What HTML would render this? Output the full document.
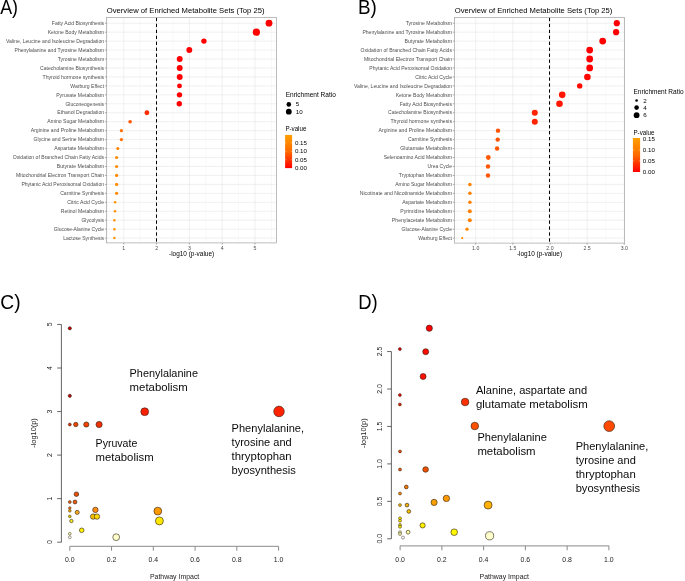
<!DOCTYPE html><html><head><meta charset="utf-8"><style>html,body{margin:0;padding:0;background:#fff;}svg{display:block;will-change:transform;}text{font-family:"Liberation Sans",sans-serif;}</style></head><body><svg width="685" height="581" viewBox="0 0 685 581" font-family="Liberation Sans, sans-serif">
<rect width="685" height="581" fill="#fff"/>
<line x1="107.40" y1="17.50" x2="107.40" y2="242.90" stroke="#efefef" stroke-width="0.4"/>
<line x1="140.20" y1="17.50" x2="140.20" y2="242.90" stroke="#efefef" stroke-width="0.4"/>
<line x1="173.00" y1="17.50" x2="173.00" y2="242.90" stroke="#efefef" stroke-width="0.4"/>
<line x1="205.80" y1="17.50" x2="205.80" y2="242.90" stroke="#efefef" stroke-width="0.4"/>
<line x1="238.60" y1="17.50" x2="238.60" y2="242.90" stroke="#efefef" stroke-width="0.4"/>
<line x1="271.40" y1="17.50" x2="271.40" y2="242.90" stroke="#efefef" stroke-width="0.4"/>
<line x1="123.80" y1="17.50" x2="123.80" y2="242.90" stroke="#e4e4e4" stroke-width="0.55"/>
<line x1="156.60" y1="17.50" x2="156.60" y2="242.90" stroke="#e4e4e4" stroke-width="0.55"/>
<line x1="189.40" y1="17.50" x2="189.40" y2="242.90" stroke="#e4e4e4" stroke-width="0.55"/>
<line x1="222.20" y1="17.50" x2="222.20" y2="242.90" stroke="#e4e4e4" stroke-width="0.55"/>
<line x1="255.00" y1="17.50" x2="255.00" y2="242.90" stroke="#e4e4e4" stroke-width="0.55"/>
<line x1="106.60" y1="23.20" x2="276.60" y2="23.20" stroke="#e4e4e4" stroke-width="0.55"/>
<line x1="106.60" y1="32.16" x2="276.60" y2="32.16" stroke="#e4e4e4" stroke-width="0.55"/>
<line x1="106.60" y1="41.11" x2="276.60" y2="41.11" stroke="#e4e4e4" stroke-width="0.55"/>
<line x1="106.60" y1="50.06" x2="276.60" y2="50.06" stroke="#e4e4e4" stroke-width="0.55"/>
<line x1="106.60" y1="59.02" x2="276.60" y2="59.02" stroke="#e4e4e4" stroke-width="0.55"/>
<line x1="106.60" y1="67.97" x2="276.60" y2="67.97" stroke="#e4e4e4" stroke-width="0.55"/>
<line x1="106.60" y1="76.93" x2="276.60" y2="76.93" stroke="#e4e4e4" stroke-width="0.55"/>
<line x1="106.60" y1="85.89" x2="276.60" y2="85.89" stroke="#e4e4e4" stroke-width="0.55"/>
<line x1="106.60" y1="94.84" x2="276.60" y2="94.84" stroke="#e4e4e4" stroke-width="0.55"/>
<line x1="106.60" y1="103.80" x2="276.60" y2="103.80" stroke="#e4e4e4" stroke-width="0.55"/>
<line x1="106.60" y1="112.75" x2="276.60" y2="112.75" stroke="#e4e4e4" stroke-width="0.55"/>
<line x1="106.60" y1="121.70" x2="276.60" y2="121.70" stroke="#e4e4e4" stroke-width="0.55"/>
<line x1="106.60" y1="130.66" x2="276.60" y2="130.66" stroke="#e4e4e4" stroke-width="0.55"/>
<line x1="106.60" y1="139.62" x2="276.60" y2="139.62" stroke="#e4e4e4" stroke-width="0.55"/>
<line x1="106.60" y1="148.57" x2="276.60" y2="148.57" stroke="#e4e4e4" stroke-width="0.55"/>
<line x1="106.60" y1="157.52" x2="276.60" y2="157.52" stroke="#e4e4e4" stroke-width="0.55"/>
<line x1="106.60" y1="166.48" x2="276.60" y2="166.48" stroke="#e4e4e4" stroke-width="0.55"/>
<line x1="106.60" y1="175.44" x2="276.60" y2="175.44" stroke="#e4e4e4" stroke-width="0.55"/>
<line x1="106.60" y1="184.39" x2="276.60" y2="184.39" stroke="#e4e4e4" stroke-width="0.55"/>
<line x1="106.60" y1="193.34" x2="276.60" y2="193.34" stroke="#e4e4e4" stroke-width="0.55"/>
<line x1="106.60" y1="202.30" x2="276.60" y2="202.30" stroke="#e4e4e4" stroke-width="0.55"/>
<line x1="106.60" y1="211.25" x2="276.60" y2="211.25" stroke="#e4e4e4" stroke-width="0.55"/>
<line x1="106.60" y1="220.21" x2="276.60" y2="220.21" stroke="#e4e4e4" stroke-width="0.55"/>
<line x1="106.60" y1="229.16" x2="276.60" y2="229.16" stroke="#e4e4e4" stroke-width="0.55"/>
<line x1="106.60" y1="238.12" x2="276.60" y2="238.12" stroke="#e4e4e4" stroke-width="0.55"/>
<line x1="156.50" y1="17.50" x2="156.50" y2="242.90" stroke="#000000" stroke-width="1.0" stroke-dasharray="3.35,2.61" stroke-dashoffset="-0.3"/>
<circle cx="269.00" cy="23.20" r="3.40" fill="#ff0000"/>
<circle cx="256.40" cy="32.16" r="3.60" fill="#ff0000"/>
<circle cx="203.90" cy="41.11" r="2.70" fill="#ff0000"/>
<circle cx="189.30" cy="50.06" r="2.95" fill="#ff0000"/>
<circle cx="179.70" cy="59.02" r="2.95" fill="#ff0000"/>
<circle cx="179.70" cy="67.97" r="2.95" fill="#ff0000"/>
<circle cx="179.70" cy="76.93" r="2.95" fill="#ff0000"/>
<circle cx="179.50" cy="85.89" r="2.45" fill="#ff0000"/>
<circle cx="179.50" cy="94.84" r="2.70" fill="#ff0000"/>
<circle cx="179.30" cy="103.80" r="2.70" fill="#ff0000"/>
<circle cx="146.90" cy="112.75" r="2.40" fill="#ff2a00"/>
<circle cx="130.10" cy="121.70" r="1.80" fill="#ff5500"/>
<circle cx="121.40" cy="130.66" r="1.60" fill="#ff7000"/>
<circle cx="121.40" cy="139.62" r="1.65" fill="#ff7000"/>
<circle cx="117.80" cy="148.57" r="1.50" fill="#ff8000"/>
<circle cx="116.60" cy="157.52" r="1.60" fill="#ff8a00"/>
<circle cx="116.60" cy="166.48" r="1.60" fill="#ff8a00"/>
<circle cx="116.60" cy="175.44" r="1.60" fill="#ff8a00"/>
<circle cx="116.60" cy="184.39" r="1.60" fill="#ff8a00"/>
<circle cx="116.60" cy="193.34" r="1.60" fill="#ff8a00"/>
<circle cx="115.10" cy="202.30" r="1.30" fill="#ff9200"/>
<circle cx="115.00" cy="211.25" r="1.30" fill="#ff9200"/>
<circle cx="114.40" cy="220.21" r="1.25" fill="#ff9200"/>
<circle cx="114.40" cy="229.16" r="1.25" fill="#ff9200"/>
<circle cx="114.40" cy="238.12" r="1.25" fill="#ff9200"/>
<rect x="106.60" y="17.50" width="170.00" height="225.40" fill="none" stroke="#a8a8a8" stroke-width="0.75"/>
<line x1="104.90" y1="23.20" x2="106.60" y2="23.20" stroke="#888888" stroke-width="0.7"/>
<text x="51.80" y="24.90" font-size="5.10" fill="#4d4d4d" textLength="52.30" lengthAdjust="spacingAndGlyphs">Fatty Acid Biosynthesis</text>
<line x1="104.90" y1="32.16" x2="106.60" y2="32.16" stroke="#888888" stroke-width="0.7"/>
<text x="47.74" y="33.86" font-size="5.10" fill="#4d4d4d" textLength="56.36" lengthAdjust="spacingAndGlyphs">Ketone Body Metabolism</text>
<line x1="104.90" y1="41.11" x2="106.60" y2="41.11" stroke="#888888" stroke-width="0.7"/>
<text x="6.04" y="42.81" font-size="5.10" fill="#4d4d4d" textLength="98.06" lengthAdjust="spacingAndGlyphs">Valine, Leucine and Isoleucine Degradation</text>
<line x1="104.90" y1="50.06" x2="106.60" y2="50.06" stroke="#888888" stroke-width="0.7"/>
<text x="14.52" y="51.77" font-size="5.10" fill="#4d4d4d" textLength="89.58" lengthAdjust="spacingAndGlyphs">Phenylalanine and Tyrosine Metabolism</text>
<line x1="104.90" y1="59.02" x2="106.60" y2="59.02" stroke="#888888" stroke-width="0.7"/>
<text x="57.82" y="60.72" font-size="5.10" fill="#4d4d4d" textLength="46.28" lengthAdjust="spacingAndGlyphs">Tyrosine Metabolism</text>
<line x1="104.90" y1="67.97" x2="106.60" y2="67.97" stroke="#888888" stroke-width="0.7"/>
<text x="40.06" y="69.67" font-size="5.10" fill="#4d4d4d" textLength="64.04" lengthAdjust="spacingAndGlyphs">Catecholamine Biosynthesis</text>
<line x1="104.90" y1="76.93" x2="106.60" y2="76.93" stroke="#888888" stroke-width="0.7"/>
<text x="42.50" y="78.63" font-size="5.10" fill="#4d4d4d" textLength="61.60" lengthAdjust="spacingAndGlyphs">Thyroid hormone synthesis</text>
<line x1="104.90" y1="85.89" x2="106.60" y2="85.89" stroke="#888888" stroke-width="0.7"/>
<text x="70.31" y="87.59" font-size="5.10" fill="#4d4d4d" textLength="33.79" lengthAdjust="spacingAndGlyphs">Warburg Effect</text>
<line x1="104.90" y1="94.84" x2="106.60" y2="94.84" stroke="#888888" stroke-width="0.7"/>
<text x="56.20" y="96.54" font-size="5.10" fill="#4d4d4d" textLength="47.90" lengthAdjust="spacingAndGlyphs">Pyruvate Metabolism</text>
<line x1="104.90" y1="103.80" x2="106.60" y2="103.80" stroke="#888888" stroke-width="0.7"/>
<text x="65.38" y="105.50" font-size="5.10" fill="#4d4d4d" textLength="38.72" lengthAdjust="spacingAndGlyphs">Gluconeogenesis</text>
<line x1="104.90" y1="112.75" x2="106.60" y2="112.75" stroke="#888888" stroke-width="0.7"/>
<text x="57.25" y="114.45" font-size="5.10" fill="#4d4d4d" textLength="46.85" lengthAdjust="spacingAndGlyphs">Ethanol Degradation</text>
<line x1="104.90" y1="121.70" x2="106.60" y2="121.70" stroke="#888888" stroke-width="0.7"/>
<text x="47.24" y="123.41" font-size="5.10" fill="#4d4d4d" textLength="56.86" lengthAdjust="spacingAndGlyphs">Amino Sugar Metabolism</text>
<line x1="104.90" y1="130.66" x2="106.60" y2="130.66" stroke="#888888" stroke-width="0.7"/>
<text x="30.74" y="132.36" font-size="5.10" fill="#4d4d4d" textLength="73.36" lengthAdjust="spacingAndGlyphs">Arginine and Proline Metabolism</text>
<line x1="104.90" y1="139.62" x2="106.60" y2="139.62" stroke="#888888" stroke-width="0.7"/>
<text x="33.62" y="141.31" font-size="5.10" fill="#4d4d4d" textLength="70.48" lengthAdjust="spacingAndGlyphs">Glycine and Serine Metabolism</text>
<line x1="104.90" y1="148.57" x2="106.60" y2="148.57" stroke="#888888" stroke-width="0.7"/>
<text x="54.28" y="150.27" font-size="5.10" fill="#4d4d4d" textLength="49.82" lengthAdjust="spacingAndGlyphs">Aspartate Metabolism</text>
<line x1="104.90" y1="157.52" x2="106.60" y2="157.52" stroke="#888888" stroke-width="0.7"/>
<text x="12.71" y="159.22" font-size="5.10" fill="#4d4d4d" textLength="91.39" lengthAdjust="spacingAndGlyphs">Oxidation of Branched Chain Fatty Acids</text>
<line x1="104.90" y1="166.48" x2="106.60" y2="166.48" stroke="#888888" stroke-width="0.7"/>
<text x="56.73" y="168.18" font-size="5.10" fill="#4d4d4d" textLength="47.37" lengthAdjust="spacingAndGlyphs">Butyrate Metabolism</text>
<line x1="104.90" y1="175.44" x2="106.60" y2="175.44" stroke="#888888" stroke-width="0.7"/>
<text x="16.06" y="177.13" font-size="5.10" fill="#4d4d4d" textLength="88.04" lengthAdjust="spacingAndGlyphs">Mitochondrial Electron Transport Chain</text>
<line x1="104.90" y1="184.39" x2="106.60" y2="184.39" stroke="#888888" stroke-width="0.7"/>
<text x="21.39" y="186.09" font-size="5.10" fill="#4d4d4d" textLength="82.71" lengthAdjust="spacingAndGlyphs">Phytanic Acid Peroxisomal Oxidation</text>
<line x1="104.90" y1="193.34" x2="106.60" y2="193.34" stroke="#888888" stroke-width="0.7"/>
<text x="60.18" y="195.04" font-size="5.10" fill="#4d4d4d" textLength="43.92" lengthAdjust="spacingAndGlyphs">Carnitine Synthesis</text>
<line x1="104.90" y1="202.30" x2="106.60" y2="202.30" stroke="#888888" stroke-width="0.7"/>
<text x="67.30" y="204.00" font-size="5.10" fill="#4d4d4d" textLength="36.80" lengthAdjust="spacingAndGlyphs">Citric Acid Cycle</text>
<line x1="104.90" y1="211.25" x2="106.60" y2="211.25" stroke="#888888" stroke-width="0.7"/>
<text x="60.71" y="212.95" font-size="5.10" fill="#4d4d4d" textLength="43.39" lengthAdjust="spacingAndGlyphs">Retinol Metabolism</text>
<line x1="104.90" y1="220.21" x2="106.60" y2="220.21" stroke="#888888" stroke-width="0.7"/>
<text x="81.42" y="221.91" font-size="5.10" fill="#4d4d4d" textLength="22.68" lengthAdjust="spacingAndGlyphs">Glycolysis</text>
<line x1="104.90" y1="229.16" x2="106.60" y2="229.16" stroke="#888888" stroke-width="0.7"/>
<text x="53.66" y="230.86" font-size="5.10" fill="#4d4d4d" textLength="50.44" lengthAdjust="spacingAndGlyphs">Glucose-Alanine Cycle</text>
<line x1="104.90" y1="238.12" x2="106.60" y2="238.12" stroke="#888888" stroke-width="0.7"/>
<text x="63.24" y="239.82" font-size="5.10" fill="#4d4d4d" textLength="40.86" lengthAdjust="spacingAndGlyphs">Lactose Synthesis</text>
<line x1="123.80" y1="242.90" x2="123.80" y2="244.50" stroke="#888888" stroke-width="0.7"/>
<text x="122.36" y="249.70" font-size="5.10" fill="#4d4d4d" textLength="2.89" lengthAdjust="spacingAndGlyphs">1</text>
<line x1="156.60" y1="242.90" x2="156.60" y2="244.50" stroke="#888888" stroke-width="0.7"/>
<text x="155.16" y="249.70" font-size="5.10" fill="#4d4d4d" textLength="2.89" lengthAdjust="spacingAndGlyphs">2</text>
<line x1="189.40" y1="242.90" x2="189.40" y2="244.50" stroke="#888888" stroke-width="0.7"/>
<text x="187.96" y="249.70" font-size="5.10" fill="#4d4d4d" textLength="2.89" lengthAdjust="spacingAndGlyphs">3</text>
<line x1="222.20" y1="242.90" x2="222.20" y2="244.50" stroke="#888888" stroke-width="0.7"/>
<text x="220.76" y="249.70" font-size="5.10" fill="#4d4d4d" textLength="2.89" lengthAdjust="spacingAndGlyphs">4</text>
<line x1="255.00" y1="242.90" x2="255.00" y2="244.50" stroke="#888888" stroke-width="0.7"/>
<text x="253.56" y="249.70" font-size="5.10" fill="#4d4d4d" textLength="2.89" lengthAdjust="spacingAndGlyphs">5</text>
<text x="169.02" y="255.50" font-size="6.37" fill="#000" textLength="45.15" lengthAdjust="spacingAndGlyphs">-log10 (p-value)</text>
<text x="106.80" y="13.30" font-size="7.65" fill="#000" textLength="157.74" lengthAdjust="spacingAndGlyphs">Overview of Enriched Metabolite Sets (Top 25)</text>
<text x="285.70" y="97.40" font-size="6.51" fill="#000" textLength="50.11" lengthAdjust="spacingAndGlyphs">Enrichment Ratio</text>
<circle cx="288.80" cy="104.40" r="2.30" fill="#000"/>
<text x="295.80" y="106.40" font-size="6.12" fill="#000" textLength="3.47" lengthAdjust="spacingAndGlyphs">5</text>
<circle cx="288.80" cy="111.70" r="2.90" fill="#000"/>
<text x="295.80" y="113.70" font-size="6.12" fill="#000" textLength="6.94" lengthAdjust="spacingAndGlyphs">10</text>
<text x="285.40" y="131.40" font-size="6.46" fill="#000" textLength="20.97" lengthAdjust="spacingAndGlyphs">P-value</text>
<defs><linearGradient id="gA" x1="0" y1="0" x2="0" y2="1"><stop offset="0" stop-color="#ffa000"/><stop offset="0.5" stop-color="#ff6a00"/><stop offset="1" stop-color="#ff0000"/></linearGradient><linearGradient id="gB" x1="0" y1="0" x2="0" y2="1"><stop offset="0" stop-color="#ffa000"/><stop offset="0.5" stop-color="#ff6a00"/><stop offset="1" stop-color="#ff0000"/></linearGradient></defs>
<rect x="285.1" y="134.9" width="7.0" height="33.2" fill="url(#gA)"/>
<text x="294.90" y="144.80" font-size="6.12" fill="#000" textLength="12.14" lengthAdjust="spacingAndGlyphs">0.15</text>
<line x1="285.10" y1="142.80" x2="286.50" y2="142.80" stroke="#ffffff" stroke-width="0.5" opacity="0.7"/>
<line x1="290.70" y1="142.80" x2="292.10" y2="142.80" stroke="#ffffff" stroke-width="0.5" opacity="0.7"/>
<text x="294.90" y="153.30" font-size="6.12" fill="#000" textLength="12.14" lengthAdjust="spacingAndGlyphs">0.10</text>
<line x1="285.10" y1="151.30" x2="286.50" y2="151.30" stroke="#ffffff" stroke-width="0.5" opacity="0.7"/>
<line x1="290.70" y1="151.30" x2="292.10" y2="151.30" stroke="#ffffff" stroke-width="0.5" opacity="0.7"/>
<text x="294.90" y="161.80" font-size="6.12" fill="#000" textLength="12.14" lengthAdjust="spacingAndGlyphs">0.05</text>
<line x1="285.10" y1="159.80" x2="286.50" y2="159.80" stroke="#ffffff" stroke-width="0.5" opacity="0.7"/>
<line x1="290.70" y1="159.80" x2="292.10" y2="159.80" stroke="#ffffff" stroke-width="0.5" opacity="0.7"/>
<text x="294.90" y="170.20" font-size="6.12" fill="#000" textLength="12.14" lengthAdjust="spacingAndGlyphs">0.00</text>
<line x1="457.12" y1="17.50" x2="457.12" y2="243.10" stroke="#efefef" stroke-width="0.4"/>
<line x1="494.27" y1="17.50" x2="494.27" y2="243.10" stroke="#efefef" stroke-width="0.4"/>
<line x1="531.42" y1="17.50" x2="531.42" y2="243.10" stroke="#efefef" stroke-width="0.4"/>
<line x1="568.58" y1="17.50" x2="568.58" y2="243.10" stroke="#efefef" stroke-width="0.4"/>
<line x1="605.73" y1="17.50" x2="605.73" y2="243.10" stroke="#efefef" stroke-width="0.4"/>
<line x1="475.70" y1="17.50" x2="475.70" y2="243.10" stroke="#e4e4e4" stroke-width="0.55"/>
<line x1="512.85" y1="17.50" x2="512.85" y2="243.10" stroke="#e4e4e4" stroke-width="0.55"/>
<line x1="550.00" y1="17.50" x2="550.00" y2="243.10" stroke="#e4e4e4" stroke-width="0.55"/>
<line x1="587.15" y1="17.50" x2="587.15" y2="243.10" stroke="#e4e4e4" stroke-width="0.55"/>
<line x1="624.30" y1="17.50" x2="624.30" y2="243.10" stroke="#e4e4e4" stroke-width="0.55"/>
<line x1="454.50" y1="23.20" x2="624.40" y2="23.20" stroke="#e4e4e4" stroke-width="0.55"/>
<line x1="454.50" y1="32.16" x2="624.40" y2="32.16" stroke="#e4e4e4" stroke-width="0.55"/>
<line x1="454.50" y1="41.11" x2="624.40" y2="41.11" stroke="#e4e4e4" stroke-width="0.55"/>
<line x1="454.50" y1="50.06" x2="624.40" y2="50.06" stroke="#e4e4e4" stroke-width="0.55"/>
<line x1="454.50" y1="59.02" x2="624.40" y2="59.02" stroke="#e4e4e4" stroke-width="0.55"/>
<line x1="454.50" y1="67.97" x2="624.40" y2="67.97" stroke="#e4e4e4" stroke-width="0.55"/>
<line x1="454.50" y1="76.93" x2="624.40" y2="76.93" stroke="#e4e4e4" stroke-width="0.55"/>
<line x1="454.50" y1="85.89" x2="624.40" y2="85.89" stroke="#e4e4e4" stroke-width="0.55"/>
<line x1="454.50" y1="94.84" x2="624.40" y2="94.84" stroke="#e4e4e4" stroke-width="0.55"/>
<line x1="454.50" y1="103.80" x2="624.40" y2="103.80" stroke="#e4e4e4" stroke-width="0.55"/>
<line x1="454.50" y1="112.75" x2="624.40" y2="112.75" stroke="#e4e4e4" stroke-width="0.55"/>
<line x1="454.50" y1="121.70" x2="624.40" y2="121.70" stroke="#e4e4e4" stroke-width="0.55"/>
<line x1="454.50" y1="130.66" x2="624.40" y2="130.66" stroke="#e4e4e4" stroke-width="0.55"/>
<line x1="454.50" y1="139.62" x2="624.40" y2="139.62" stroke="#e4e4e4" stroke-width="0.55"/>
<line x1="454.50" y1="148.57" x2="624.40" y2="148.57" stroke="#e4e4e4" stroke-width="0.55"/>
<line x1="454.50" y1="157.52" x2="624.40" y2="157.52" stroke="#e4e4e4" stroke-width="0.55"/>
<line x1="454.50" y1="166.48" x2="624.40" y2="166.48" stroke="#e4e4e4" stroke-width="0.55"/>
<line x1="454.50" y1="175.44" x2="624.40" y2="175.44" stroke="#e4e4e4" stroke-width="0.55"/>
<line x1="454.50" y1="184.39" x2="624.40" y2="184.39" stroke="#e4e4e4" stroke-width="0.55"/>
<line x1="454.50" y1="193.34" x2="624.40" y2="193.34" stroke="#e4e4e4" stroke-width="0.55"/>
<line x1="454.50" y1="202.30" x2="624.40" y2="202.30" stroke="#e4e4e4" stroke-width="0.55"/>
<line x1="454.50" y1="211.25" x2="624.40" y2="211.25" stroke="#e4e4e4" stroke-width="0.55"/>
<line x1="454.50" y1="220.21" x2="624.40" y2="220.21" stroke="#e4e4e4" stroke-width="0.55"/>
<line x1="454.50" y1="229.16" x2="624.40" y2="229.16" stroke="#e4e4e4" stroke-width="0.55"/>
<line x1="454.50" y1="238.12" x2="624.40" y2="238.12" stroke="#e4e4e4" stroke-width="0.55"/>
<line x1="549.50" y1="17.50" x2="549.50" y2="243.10" stroke="#000000" stroke-width="1.0" stroke-dasharray="3.35,2.61" stroke-dashoffset="-0.3"/>
<circle cx="616.80" cy="23.20" r="3.10" fill="#ff0000"/>
<circle cx="616.10" cy="32.16" r="3.10" fill="#ff0000"/>
<circle cx="602.70" cy="41.11" r="3.40" fill="#ff0000"/>
<circle cx="589.70" cy="50.06" r="3.40" fill="#ff0000"/>
<circle cx="589.70" cy="59.02" r="3.40" fill="#ff0000"/>
<circle cx="589.70" cy="67.97" r="3.40" fill="#ff0000"/>
<circle cx="587.40" cy="76.93" r="3.30" fill="#ff0500"/>
<circle cx="579.70" cy="85.89" r="2.70" fill="#ff0a00"/>
<circle cx="562.20" cy="94.84" r="3.30" fill="#ff1400"/>
<circle cx="559.50" cy="103.80" r="3.30" fill="#ff1600"/>
<circle cx="534.80" cy="112.75" r="3.00" fill="#ff2400"/>
<circle cx="534.80" cy="121.70" r="3.00" fill="#ff2400"/>
<circle cx="498.00" cy="130.66" r="2.20" fill="#ff5200"/>
<circle cx="497.70" cy="139.62" r="2.20" fill="#ff5200"/>
<circle cx="497.10" cy="148.57" r="2.20" fill="#ff5400"/>
<circle cx="488.30" cy="157.52" r="2.40" fill="#ff5800"/>
<circle cx="488.00" cy="166.48" r="2.20" fill="#ff5800"/>
<circle cx="488.00" cy="175.44" r="2.20" fill="#ff5800"/>
<circle cx="469.90" cy="184.39" r="1.75" fill="#ff8000"/>
<circle cx="469.90" cy="193.34" r="1.75" fill="#ff8000"/>
<circle cx="469.90" cy="202.30" r="1.75" fill="#ff8000"/>
<circle cx="469.80" cy="211.25" r="2.00" fill="#ff8000"/>
<circle cx="469.80" cy="220.21" r="2.00" fill="#ff8000"/>
<circle cx="467.00" cy="229.16" r="1.70" fill="#ff8800"/>
<circle cx="462.20" cy="238.12" r="1.15" fill="#ff9200"/>
<rect x="454.50" y="17.50" width="169.90" height="225.60" fill="none" stroke="#a8a8a8" stroke-width="0.75"/>
<line x1="452.80" y1="23.20" x2="454.50" y2="23.20" stroke="#888888" stroke-width="0.7"/>
<text x="405.72" y="24.90" font-size="5.10" fill="#4d4d4d" textLength="46.28" lengthAdjust="spacingAndGlyphs">Tyrosine Metabolism</text>
<line x1="452.80" y1="32.16" x2="454.50" y2="32.16" stroke="#888888" stroke-width="0.7"/>
<text x="362.42" y="33.86" font-size="5.10" fill="#4d4d4d" textLength="89.58" lengthAdjust="spacingAndGlyphs">Phenylalanine and Tyrosine Metabolism</text>
<line x1="452.80" y1="41.11" x2="454.50" y2="41.11" stroke="#888888" stroke-width="0.7"/>
<text x="404.63" y="42.81" font-size="5.10" fill="#4d4d4d" textLength="47.37" lengthAdjust="spacingAndGlyphs">Butyrate Metabolism</text>
<line x1="452.80" y1="50.06" x2="454.50" y2="50.06" stroke="#888888" stroke-width="0.7"/>
<text x="360.61" y="51.77" font-size="5.10" fill="#4d4d4d" textLength="91.39" lengthAdjust="spacingAndGlyphs">Oxidation of Branched Chain Fatty Acids</text>
<line x1="452.80" y1="59.02" x2="454.50" y2="59.02" stroke="#888888" stroke-width="0.7"/>
<text x="363.96" y="60.72" font-size="5.10" fill="#4d4d4d" textLength="88.04" lengthAdjust="spacingAndGlyphs">Mitochondrial Electron Transport Chain</text>
<line x1="452.80" y1="67.97" x2="454.50" y2="67.97" stroke="#888888" stroke-width="0.7"/>
<text x="369.29" y="69.67" font-size="5.10" fill="#4d4d4d" textLength="82.71" lengthAdjust="spacingAndGlyphs">Phytanic Acid Peroxisomal Oxidation</text>
<line x1="452.80" y1="76.93" x2="454.50" y2="76.93" stroke="#888888" stroke-width="0.7"/>
<text x="415.20" y="78.63" font-size="5.10" fill="#4d4d4d" textLength="36.80" lengthAdjust="spacingAndGlyphs">Citric Acid Cycle</text>
<line x1="452.80" y1="85.89" x2="454.50" y2="85.89" stroke="#888888" stroke-width="0.7"/>
<text x="353.94" y="87.59" font-size="5.10" fill="#4d4d4d" textLength="98.06" lengthAdjust="spacingAndGlyphs">Valine, Leucine and Isoleucine Degradation</text>
<line x1="452.80" y1="94.84" x2="454.50" y2="94.84" stroke="#888888" stroke-width="0.7"/>
<text x="395.64" y="96.54" font-size="5.10" fill="#4d4d4d" textLength="56.36" lengthAdjust="spacingAndGlyphs">Ketone Body Metabolism</text>
<line x1="452.80" y1="103.80" x2="454.50" y2="103.80" stroke="#888888" stroke-width="0.7"/>
<text x="399.70" y="105.50" font-size="5.10" fill="#4d4d4d" textLength="52.30" lengthAdjust="spacingAndGlyphs">Fatty Acid Biosynthesis</text>
<line x1="452.80" y1="112.75" x2="454.50" y2="112.75" stroke="#888888" stroke-width="0.7"/>
<text x="387.96" y="114.45" font-size="5.10" fill="#4d4d4d" textLength="64.04" lengthAdjust="spacingAndGlyphs">Catecholamine Biosynthesis</text>
<line x1="452.80" y1="121.70" x2="454.50" y2="121.70" stroke="#888888" stroke-width="0.7"/>
<text x="390.40" y="123.41" font-size="5.10" fill="#4d4d4d" textLength="61.60" lengthAdjust="spacingAndGlyphs">Thyroid hormone synthesis</text>
<line x1="452.80" y1="130.66" x2="454.50" y2="130.66" stroke="#888888" stroke-width="0.7"/>
<text x="378.64" y="132.36" font-size="5.10" fill="#4d4d4d" textLength="73.36" lengthAdjust="spacingAndGlyphs">Arginine and Proline Metabolism</text>
<line x1="452.80" y1="139.62" x2="454.50" y2="139.62" stroke="#888888" stroke-width="0.7"/>
<text x="408.08" y="141.31" font-size="5.10" fill="#4d4d4d" textLength="43.92" lengthAdjust="spacingAndGlyphs">Carnitine Synthesis</text>
<line x1="452.80" y1="148.57" x2="454.50" y2="148.57" stroke="#888888" stroke-width="0.7"/>
<text x="400.32" y="150.27" font-size="5.10" fill="#4d4d4d" textLength="51.68" lengthAdjust="spacingAndGlyphs">Glutamate Metabolism</text>
<line x1="452.80" y1="157.52" x2="454.50" y2="157.52" stroke="#888888" stroke-width="0.7"/>
<text x="383.70" y="159.22" font-size="5.10" fill="#4d4d4d" textLength="68.30" lengthAdjust="spacingAndGlyphs">Selenoamino Acid Metabolism</text>
<line x1="452.80" y1="166.48" x2="454.50" y2="166.48" stroke="#888888" stroke-width="0.7"/>
<text x="427.48" y="168.18" font-size="5.10" fill="#4d4d4d" textLength="24.52" lengthAdjust="spacingAndGlyphs">Urea Cycle</text>
<line x1="452.80" y1="175.44" x2="454.50" y2="175.44" stroke="#888888" stroke-width="0.7"/>
<text x="398.80" y="177.13" font-size="5.10" fill="#4d4d4d" textLength="53.20" lengthAdjust="spacingAndGlyphs">Tryptophan Metabolism</text>
<line x1="452.80" y1="184.39" x2="454.50" y2="184.39" stroke="#888888" stroke-width="0.7"/>
<text x="395.14" y="186.09" font-size="5.10" fill="#4d4d4d" textLength="56.86" lengthAdjust="spacingAndGlyphs">Amino Sugar Metabolism</text>
<line x1="452.80" y1="193.34" x2="454.50" y2="193.34" stroke="#888888" stroke-width="0.7"/>
<text x="359.69" y="195.04" font-size="5.10" fill="#4d4d4d" textLength="92.31" lengthAdjust="spacingAndGlyphs">Nicotinate and Nicotinamide Metabolism</text>
<line x1="452.80" y1="202.30" x2="454.50" y2="202.30" stroke="#888888" stroke-width="0.7"/>
<text x="402.18" y="204.00" font-size="5.10" fill="#4d4d4d" textLength="49.82" lengthAdjust="spacingAndGlyphs">Aspartate Metabolism</text>
<line x1="452.80" y1="211.25" x2="454.50" y2="211.25" stroke="#888888" stroke-width="0.7"/>
<text x="400.26" y="212.95" font-size="5.10" fill="#4d4d4d" textLength="51.74" lengthAdjust="spacingAndGlyphs">Pyrimidine Metabolism</text>
<line x1="452.80" y1="220.21" x2="454.50" y2="220.21" stroke="#888888" stroke-width="0.7"/>
<text x="391.87" y="221.91" font-size="5.10" fill="#4d4d4d" textLength="60.13" lengthAdjust="spacingAndGlyphs">Phenylacetate Metabolism</text>
<line x1="452.80" y1="229.16" x2="454.50" y2="229.16" stroke="#888888" stroke-width="0.7"/>
<text x="401.56" y="230.86" font-size="5.10" fill="#4d4d4d" textLength="50.44" lengthAdjust="spacingAndGlyphs">Glucose-Alanine Cycle</text>
<line x1="452.80" y1="238.12" x2="454.50" y2="238.12" stroke="#888888" stroke-width="0.7"/>
<text x="418.21" y="239.82" font-size="5.10" fill="#4d4d4d" textLength="33.79" lengthAdjust="spacingAndGlyphs">Warburg Effect</text>
<line x1="475.70" y1="243.10" x2="475.70" y2="244.70" stroke="#888888" stroke-width="0.7"/>
<text x="472.09" y="249.90" font-size="5.10" fill="#4d4d4d" textLength="7.22" lengthAdjust="spacingAndGlyphs">1.0</text>
<line x1="512.85" y1="243.10" x2="512.85" y2="244.70" stroke="#888888" stroke-width="0.7"/>
<text x="509.24" y="249.90" font-size="5.10" fill="#4d4d4d" textLength="7.22" lengthAdjust="spacingAndGlyphs">1.5</text>
<line x1="550.00" y1="243.10" x2="550.00" y2="244.70" stroke="#888888" stroke-width="0.7"/>
<text x="546.39" y="249.90" font-size="5.10" fill="#4d4d4d" textLength="7.22" lengthAdjust="spacingAndGlyphs">2.0</text>
<line x1="587.15" y1="243.10" x2="587.15" y2="244.70" stroke="#888888" stroke-width="0.7"/>
<text x="583.54" y="249.90" font-size="5.10" fill="#4d4d4d" textLength="7.22" lengthAdjust="spacingAndGlyphs">2.5</text>
<line x1="624.30" y1="243.10" x2="624.30" y2="244.70" stroke="#888888" stroke-width="0.7"/>
<text x="620.69" y="249.90" font-size="5.10" fill="#4d4d4d" textLength="7.22" lengthAdjust="spacingAndGlyphs">3.0</text>
<text x="516.92" y="255.50" font-size="6.37" fill="#000" textLength="45.15" lengthAdjust="spacingAndGlyphs">-log10 (p-value)</text>
<text x="454.70" y="13.30" font-size="7.65" fill="#000" textLength="157.74" lengthAdjust="spacingAndGlyphs">Overview of Enriched Metabolite Sets (Top 25)</text>
<text x="633.50" y="94.00" font-size="6.51" fill="#000" textLength="50.11" lengthAdjust="spacingAndGlyphs">Enrichment Ratio</text>
<circle cx="636.60" cy="100.50" r="1.30" fill="#000"/>
<text x="643.30" y="102.50" font-size="6.12" fill="#000" textLength="3.47" lengthAdjust="spacingAndGlyphs">2</text>
<circle cx="636.60" cy="107.60" r="2.30" fill="#000"/>
<text x="643.30" y="109.60" font-size="6.12" fill="#000" textLength="3.47" lengthAdjust="spacingAndGlyphs">4</text>
<circle cx="636.60" cy="115.20" r="2.90" fill="#000"/>
<text x="643.30" y="117.20" font-size="6.12" fill="#000" textLength="3.47" lengthAdjust="spacingAndGlyphs">6</text>
<text x="633.50" y="135.40" font-size="6.46" fill="#000" textLength="20.97" lengthAdjust="spacingAndGlyphs">P-value</text>
<rect x="632.9" y="138.0" width="7.2" height="34.0" fill="url(#gB)"/>
<text x="642.80" y="141.30" font-size="6.12" fill="#000" textLength="12.14" lengthAdjust="spacingAndGlyphs">0.15</text>
<text x="642.80" y="152.10" font-size="6.12" fill="#000" textLength="12.14" lengthAdjust="spacingAndGlyphs">0.10</text>
<line x1="632.90" y1="150.10" x2="634.30" y2="150.10" stroke="#ffffff" stroke-width="0.5" opacity="0.7"/>
<line x1="638.70" y1="150.10" x2="640.10" y2="150.10" stroke="#ffffff" stroke-width="0.5" opacity="0.7"/>
<text x="642.80" y="163.00" font-size="6.12" fill="#000" textLength="12.14" lengthAdjust="spacingAndGlyphs">0.05</text>
<line x1="632.90" y1="161.00" x2="634.30" y2="161.00" stroke="#ffffff" stroke-width="0.5" opacity="0.7"/>
<line x1="638.70" y1="161.00" x2="640.10" y2="161.00" stroke="#ffffff" stroke-width="0.5" opacity="0.7"/>
<text x="642.80" y="173.80" font-size="6.12" fill="#000" textLength="12.14" lengthAdjust="spacingAndGlyphs">0.00</text>
<text x="0.20" y="13.90" font-size="19.80" fill="#000" textLength="17.82" lengthAdjust="spacingAndGlyphs">A)</text>
<text x="357.90" y="13.90" font-size="19.80" fill="#000" textLength="18.81" lengthAdjust="spacingAndGlyphs">B)</text>
<text x="0.30" y="309.10" font-size="19.80" fill="#000" textLength="20.27" lengthAdjust="spacingAndGlyphs">C)</text>
<text x="358.20" y="309.00" font-size="19.80" fill="#000" textLength="19.43" lengthAdjust="spacingAndGlyphs">D)</text>
<line x1="61.40" y1="324.45" x2="61.40" y2="542.20" stroke="#555555" stroke-width="0.9"/>
<line x1="57.20" y1="542.20" x2="61.40" y2="542.20" stroke="#555555" stroke-width="0.9"/>
<text x="0" y="0" font-size="6.9" fill="#222" text-anchor="middle" transform="translate(52.20 542.20) rotate(-90)">0</text>
<line x1="57.20" y1="498.65" x2="61.40" y2="498.65" stroke="#555555" stroke-width="0.9"/>
<text x="0" y="0" font-size="6.9" fill="#222" text-anchor="middle" transform="translate(52.20 498.65) rotate(-90)">1</text>
<line x1="57.20" y1="455.10" x2="61.40" y2="455.10" stroke="#555555" stroke-width="0.9"/>
<text x="0" y="0" font-size="6.9" fill="#222" text-anchor="middle" transform="translate(52.20 455.10) rotate(-90)">2</text>
<line x1="57.20" y1="411.55" x2="61.40" y2="411.55" stroke="#555555" stroke-width="0.9"/>
<text x="0" y="0" font-size="6.9" fill="#222" text-anchor="middle" transform="translate(52.20 411.55) rotate(-90)">3</text>
<line x1="57.20" y1="368.00" x2="61.40" y2="368.00" stroke="#555555" stroke-width="0.9"/>
<text x="0" y="0" font-size="6.9" fill="#222" text-anchor="middle" transform="translate(52.20 368.00) rotate(-90)">4</text>
<line x1="57.20" y1="324.45" x2="61.40" y2="324.45" stroke="#555555" stroke-width="0.9"/>
<text x="0" y="0" font-size="6.9" fill="#222" text-anchor="middle" transform="translate(52.20 324.45) rotate(-90)">5</text>
<line x1="69.80" y1="546.30" x2="278.60" y2="546.30" stroke="#8a8a8a" stroke-width="1.0"/>
<line x1="69.80" y1="546.30" x2="69.80" y2="550.70" stroke="#8a8a8a" stroke-width="1.0"/>
<text x="69.80" y="562.10" font-size="6.9" fill="#222" text-anchor="middle">0.0</text>
<line x1="111.56" y1="546.30" x2="111.56" y2="550.70" stroke="#8a8a8a" stroke-width="1.0"/>
<text x="111.56" y="562.10" font-size="6.9" fill="#222" text-anchor="middle">0.2</text>
<line x1="153.32" y1="546.30" x2="153.32" y2="550.70" stroke="#8a8a8a" stroke-width="1.0"/>
<text x="153.32" y="562.10" font-size="6.9" fill="#222" text-anchor="middle">0.4</text>
<line x1="195.08" y1="546.30" x2="195.08" y2="550.70" stroke="#8a8a8a" stroke-width="1.0"/>
<text x="195.08" y="562.10" font-size="6.9" fill="#222" text-anchor="middle">0.6</text>
<line x1="236.84" y1="546.30" x2="236.84" y2="550.70" stroke="#8a8a8a" stroke-width="1.0"/>
<text x="236.84" y="562.10" font-size="6.9" fill="#222" text-anchor="middle">0.8</text>
<line x1="278.60" y1="546.30" x2="278.60" y2="550.70" stroke="#8a8a8a" stroke-width="1.0"/>
<text x="278.60" y="562.10" font-size="6.9" fill="#222" text-anchor="middle">1.0</text>
<circle cx="69.80" cy="328.30" r="1.60" fill="#cc0000" stroke="#2a2018" stroke-width="0.6"/>
<circle cx="69.80" cy="395.80" r="1.60" fill="#cc0000" stroke="#2a2018" stroke-width="0.6"/>
<circle cx="69.80" cy="424.50" r="1.50" fill="#d83000" stroke="#2a2018" stroke-width="0.45"/>
<circle cx="75.80" cy="424.50" r="2.20" fill="#f04800" stroke="#2a2018" stroke-width="0.6"/>
<circle cx="86.30" cy="424.50" r="2.60" fill="#f04400" stroke="#2a2018" stroke-width="0.6"/>
<circle cx="99.10" cy="424.50" r="3.10" fill="#f03000" stroke="#2a2018" stroke-width="0.6"/>
<circle cx="144.70" cy="411.70" r="3.90" fill="#ff2000" stroke="#2a2018" stroke-width="0.6"/>
<circle cx="279.00" cy="411.40" r="5.30" fill="#ff2200" stroke="#2a2018" stroke-width="0.6"/>
<circle cx="76.40" cy="494.20" r="2.30" fill="#e8500a" stroke="#2a2018" stroke-width="0.6"/>
<circle cx="69.80" cy="502.00" r="1.50" fill="#e05a10" stroke="#2a2018" stroke-width="0.45"/>
<circle cx="75.00" cy="502.00" r="1.95" fill="#ee5a0a" stroke="#2a2018" stroke-width="0.6"/>
<circle cx="69.80" cy="508.00" r="1.30" fill="#f07010" stroke="#2a2018" stroke-width="0.45"/>
<circle cx="69.80" cy="510.80" r="1.40" fill="#f0a000" stroke="#2a2018" stroke-width="0.45"/>
<circle cx="77.20" cy="512.40" r="2.05" fill="#f5a820" stroke="#2a2018" stroke-width="0.6"/>
<circle cx="95.40" cy="509.90" r="2.70" fill="#ff8c10" stroke="#2a2018" stroke-width="0.6"/>
<circle cx="93.10" cy="516.60" r="2.70" fill="#f0c000" stroke="#2a2018" stroke-width="0.6"/>
<circle cx="97.00" cy="516.60" r="2.70" fill="#ffd800" stroke="#2a2018" stroke-width="0.6"/>
<circle cx="69.80" cy="516.40" r="1.40" fill="#d8c000" stroke="#2a2018" stroke-width="0.45"/>
<circle cx="71.40" cy="521.00" r="1.70" fill="#fff020" stroke="#2a2018" stroke-width="0.6"/>
<circle cx="81.70" cy="530.30" r="2.30" fill="#fff000" stroke="#2a2018" stroke-width="0.6"/>
<circle cx="69.80" cy="533.80" r="1.40" fill="#f0f0a0" stroke="#2a2018" stroke-width="0.45"/>
<circle cx="69.80" cy="537.30" r="1.40" fill="#fffff0" stroke="#2a2018" stroke-width="0.45"/>
<circle cx="116.20" cy="537.20" r="3.40" fill="#ffffcc" stroke="#2a2018" stroke-width="0.6"/>
<circle cx="157.80" cy="511.10" r="3.90" fill="#ff9900" stroke="#2a2018" stroke-width="0.6"/>
<circle cx="159.40" cy="520.90" r="4.00" fill="#ffe800" stroke="#2a2018" stroke-width="0.6"/>
<text x="129.60" y="377.10" font-size="10.15" fill="#0a0a0a" textLength="68.40" lengthAdjust="spacingAndGlyphs">Phenylalanine</text>
<text x="129.60" y="391.10" font-size="10.15" fill="#0a0a0a" textLength="58.20" lengthAdjust="spacingAndGlyphs">metabolism</text>
<text x="95.60" y="447.10" font-size="10.15" fill="#0a0a0a" textLength="41.70" lengthAdjust="spacingAndGlyphs">Pyruvate</text>
<text x="95.60" y="461.10" font-size="10.15" fill="#0a0a0a" textLength="58.00" lengthAdjust="spacingAndGlyphs">metabolism</text>
<text x="231.60" y="432.40" font-size="10.15" fill="#0a0a0a" textLength="72.50" lengthAdjust="spacingAndGlyphs">Phenylalanine,</text>
<text x="231.60" y="446.40" font-size="10.15" fill="#0a0a0a" textLength="60.10" lengthAdjust="spacingAndGlyphs">tyrosine and</text>
<text x="231.60" y="460.40" font-size="10.15" fill="#0a0a0a" textLength="60.10" lengthAdjust="spacingAndGlyphs">thryptophan</text>
<text x="231.60" y="474.40" font-size="10.15" fill="#0a0a0a" textLength="64.30" lengthAdjust="spacingAndGlyphs">byosynthesis</text>
<text x="0" y="0" font-size="6.8" fill="#222" text-anchor="middle" textLength="29.6" lengthAdjust="spacingAndGlyphs" transform="translate(35.9 433.0) rotate(-90)">-log10(p)</text>
<text x="149.90" y="578.70" font-size="7.10" fill="#222" textLength="49.40" lengthAdjust="spacingAndGlyphs">Pathway Impact</text>
<line x1="391.40" y1="351.55" x2="391.40" y2="538.80" stroke="#555555" stroke-width="0.9"/>
<line x1="387.20" y1="538.80" x2="391.40" y2="538.80" stroke="#555555" stroke-width="0.9"/>
<text x="0" y="0" font-size="6.9" fill="#222" text-anchor="middle" transform="translate(382.20 538.80) rotate(-90)">0.0</text>
<line x1="387.20" y1="501.35" x2="391.40" y2="501.35" stroke="#555555" stroke-width="0.9"/>
<text x="0" y="0" font-size="6.9" fill="#222" text-anchor="middle" transform="translate(382.20 501.35) rotate(-90)">0.5</text>
<line x1="387.20" y1="463.90" x2="391.40" y2="463.90" stroke="#555555" stroke-width="0.9"/>
<text x="0" y="0" font-size="6.9" fill="#222" text-anchor="middle" transform="translate(382.20 463.90) rotate(-90)">1.0</text>
<line x1="387.20" y1="426.45" x2="391.40" y2="426.45" stroke="#555555" stroke-width="0.9"/>
<text x="0" y="0" font-size="6.9" fill="#222" text-anchor="middle" transform="translate(382.20 426.45) rotate(-90)">1.5</text>
<line x1="387.20" y1="389.00" x2="391.40" y2="389.00" stroke="#555555" stroke-width="0.9"/>
<text x="0" y="0" font-size="6.9" fill="#222" text-anchor="middle" transform="translate(382.20 389.00) rotate(-90)">2.0</text>
<line x1="387.20" y1="351.55" x2="391.40" y2="351.55" stroke="#555555" stroke-width="0.9"/>
<text x="0" y="0" font-size="6.9" fill="#222" text-anchor="middle" transform="translate(382.20 351.55) rotate(-90)">2.5</text>
<line x1="400.10" y1="545.90" x2="608.90" y2="545.90" stroke="#8a8a8a" stroke-width="1.0"/>
<line x1="400.10" y1="545.90" x2="400.10" y2="550.30" stroke="#8a8a8a" stroke-width="1.0"/>
<text x="400.10" y="561.70" font-size="6.9" fill="#222" text-anchor="middle">0.0</text>
<line x1="441.86" y1="545.90" x2="441.86" y2="550.30" stroke="#8a8a8a" stroke-width="1.0"/>
<text x="441.86" y="561.70" font-size="6.9" fill="#222" text-anchor="middle">0.2</text>
<line x1="483.62" y1="545.90" x2="483.62" y2="550.30" stroke="#8a8a8a" stroke-width="1.0"/>
<text x="483.62" y="561.70" font-size="6.9" fill="#222" text-anchor="middle">0.4</text>
<line x1="525.38" y1="545.90" x2="525.38" y2="550.30" stroke="#8a8a8a" stroke-width="1.0"/>
<text x="525.38" y="561.70" font-size="6.9" fill="#222" text-anchor="middle">0.6</text>
<line x1="567.14" y1="545.90" x2="567.14" y2="550.30" stroke="#8a8a8a" stroke-width="1.0"/>
<text x="567.14" y="561.70" font-size="6.9" fill="#222" text-anchor="middle">0.8</text>
<line x1="608.90" y1="545.90" x2="608.90" y2="550.30" stroke="#8a8a8a" stroke-width="1.0"/>
<text x="608.90" y="561.70" font-size="6.9" fill="#222" text-anchor="middle">1.0</text>
<circle cx="429.30" cy="328.20" r="3.10" fill="#ff0000" stroke="#2a2018" stroke-width="0.6"/>
<circle cx="399.90" cy="349.10" r="1.50" fill="#d00000" stroke="#2a2018" stroke-width="0.45"/>
<circle cx="425.70" cy="351.70" r="3.00" fill="#ff0a00" stroke="#2a2018" stroke-width="0.6"/>
<circle cx="423.10" cy="376.50" r="3.00" fill="#ff1000" stroke="#2a2018" stroke-width="0.6"/>
<circle cx="399.90" cy="395.10" r="1.50" fill="#d81000" stroke="#2a2018" stroke-width="0.45"/>
<circle cx="399.90" cy="404.40" r="1.50" fill="#d82000" stroke="#2a2018" stroke-width="0.45"/>
<circle cx="465.10" cy="402.00" r="3.80" fill="#ff3000" stroke="#2a2018" stroke-width="0.6"/>
<circle cx="474.80" cy="426.00" r="3.80" fill="#ff5000" stroke="#2a2018" stroke-width="0.6"/>
<circle cx="609.20" cy="426.10" r="5.40" fill="#ff4a00" stroke="#2a2018" stroke-width="0.6"/>
<circle cx="400.00" cy="451.40" r="1.50" fill="#e04000" stroke="#2a2018" stroke-width="0.45"/>
<circle cx="400.00" cy="469.50" r="1.50" fill="#d85000" stroke="#2a2018" stroke-width="0.45"/>
<circle cx="425.60" cy="469.50" r="2.80" fill="#f05000" stroke="#2a2018" stroke-width="0.6"/>
<circle cx="406.30" cy="487.00" r="1.90" fill="#f07800" stroke="#2a2018" stroke-width="0.6"/>
<circle cx="400.00" cy="493.50" r="1.50" fill="#e88000" stroke="#2a2018" stroke-width="0.45"/>
<circle cx="400.00" cy="505.10" r="1.50" fill="#f0b000" stroke="#2a2018" stroke-width="0.45"/>
<circle cx="407.00" cy="505.10" r="1.90" fill="#f0b000" stroke="#2a2018" stroke-width="0.6"/>
<circle cx="408.80" cy="511.40" r="1.90" fill="#f5c000" stroke="#2a2018" stroke-width="0.6"/>
<circle cx="434.10" cy="502.40" r="3.10" fill="#f8a000" stroke="#2a2018" stroke-width="0.6"/>
<circle cx="446.40" cy="498.40" r="3.20" fill="#ff9a00" stroke="#2a2018" stroke-width="0.6"/>
<circle cx="400.00" cy="518.30" r="1.50" fill="#f0d800" stroke="#2a2018" stroke-width="0.45"/>
<circle cx="400.00" cy="520.80" r="1.50" fill="#f0d800" stroke="#2a2018" stroke-width="0.45"/>
<circle cx="400.00" cy="525.00" r="1.50" fill="#e8d800" stroke="#2a2018" stroke-width="0.45"/>
<circle cx="400.00" cy="526.80" r="1.50" fill="#e8d800" stroke="#2a2018" stroke-width="0.45"/>
<circle cx="422.60" cy="525.40" r="2.60" fill="#fff000" stroke="#2a2018" stroke-width="0.6"/>
<circle cx="400.00" cy="532.20" r="1.50" fill="#f0f0a0" stroke="#2a2018" stroke-width="0.45"/>
<circle cx="400.00" cy="534.00" r="1.50" fill="#f0f0a0" stroke="#2a2018" stroke-width="0.45"/>
<circle cx="408.10" cy="532.20" r="1.90" fill="#ffffa0" stroke="#2a2018" stroke-width="0.6"/>
<circle cx="403.00" cy="537.60" r="1.50" fill="#ffffff" stroke="#2a2018" stroke-width="0.45"/>
<circle cx="454.20" cy="532.20" r="3.30" fill="#fff800" stroke="#2a2018" stroke-width="0.6"/>
<circle cx="488.10" cy="505.10" r="4.00" fill="#ffb000" stroke="#2a2018" stroke-width="0.6"/>
<circle cx="489.60" cy="535.80" r="4.10" fill="#ffffcc" stroke="#2a2018" stroke-width="0.6"/>
<text x="475.90" y="394.20" font-size="10.15" fill="#0a0a0a" textLength="111.20" lengthAdjust="spacingAndGlyphs">Alanine, aspartate and</text>
<text x="475.90" y="408.20" font-size="10.15" fill="#0a0a0a" textLength="111.80" lengthAdjust="spacingAndGlyphs">glutamate metabolism</text>
<text x="477.40" y="440.60" font-size="10.15" fill="#0a0a0a" textLength="69.50" lengthAdjust="spacingAndGlyphs">Phenylalanine</text>
<text x="477.40" y="454.60" font-size="10.15" fill="#0a0a0a" textLength="58.20" lengthAdjust="spacingAndGlyphs">metabolism</text>
<text x="575.70" y="450.30" font-size="10.15" fill="#0a0a0a" textLength="72.60" lengthAdjust="spacingAndGlyphs">Phenylalanine,</text>
<text x="575.70" y="464.30" font-size="10.15" fill="#0a0a0a" textLength="60.10" lengthAdjust="spacingAndGlyphs">tyrosine and</text>
<text x="575.70" y="478.30" font-size="10.15" fill="#0a0a0a" textLength="60.10" lengthAdjust="spacingAndGlyphs">thryptophan</text>
<text x="575.70" y="492.30" font-size="10.15" fill="#0a0a0a" textLength="64.30" lengthAdjust="spacingAndGlyphs">byosynthesis</text>
<text x="0" y="0" font-size="6.8" fill="#222" text-anchor="middle" textLength="29.6" lengthAdjust="spacingAndGlyphs" transform="translate(365.9 433.2) rotate(-90)">-log10(p)</text>
<text x="479.50" y="578.70" font-size="7.10" fill="#222" textLength="49.40" lengthAdjust="spacingAndGlyphs">Pathway Impact</text>
</svg></body></html>
